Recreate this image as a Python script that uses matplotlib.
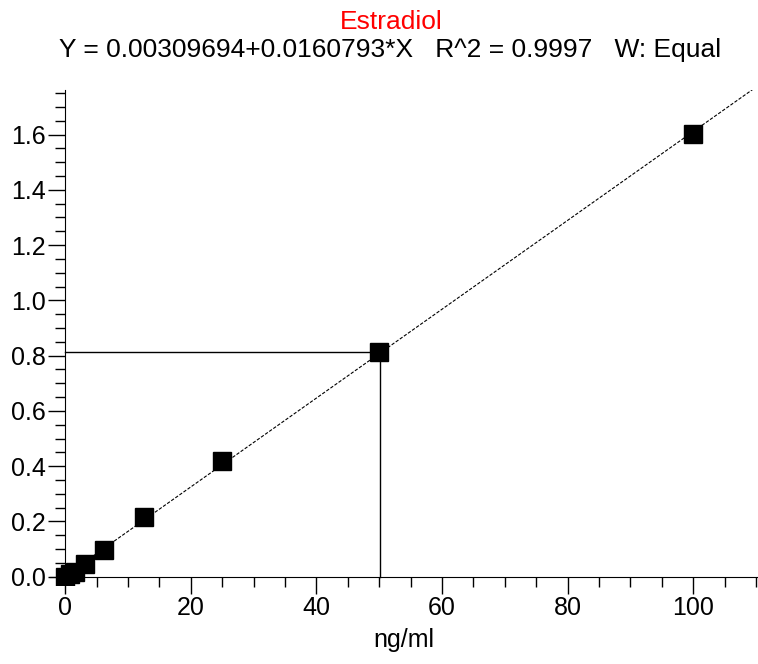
import matplotlib.pyplot as plt
import numpy as np

plt.rcParams['font.family'] = ['Liberation Sans', 'DejaVu Sans']

# calibration standards (ng/ml) and response
conc = [0, 0.78, 1.56, 3.125, 6.25, 12.5, 25, 50, 100]
resp = [0.0, 0.01, 0.018, 0.047, 0.098, 0.217, 0.419, 0.812, 1.603]

# regression fit
intercept = 0.00309694
slope = 0.0160793

# sample read-off
sample_x = 50.2
sample_y = 0.812

fig = plt.figure(figsize=(7.58, 6.64), dpi=100)
ax = fig.add_axes([0.066, 0.119, 0.934, 0.745])

xfit = np.array([0, 110.3])
ax.plot(xfit, intercept + slope * xfit, color='black', lw=0.8, ls=(0, (3, 1.5)))
ax.plot([0, sample_x], [sample_y, sample_y], color='black', lw=1)
ax.plot([sample_x, sample_x], [0, sample_y], color='black', lw=1)
ax.plot(conc, resp, 's', color='black', ms=13, zorder=3)

ax.set_xlim(-2.4, 110.3)
ax.set_ylim(-0.03, 1.76)

for s in ['top', 'right']:
    ax.spines[s].set_visible(False)
ax.spines['left'].set_position(('data', 0))
ax.spines['bottom'].set_position(('data', 0))
ax.spines['left'].set_bounds(0, 1.76)
ax.spines['bottom'].set_bounds(-2.4, 110.3)

ax.set_xticks(np.arange(0, 101, 20))
ax.set_xticks(np.arange(0, 111, 5), minor=True)
ax.set_yticks(np.arange(0, 1.61, 0.2))
ax.set_yticks(np.arange(0, 1.76, 0.05), minor=True)
ax.set_yticklabels(['%.1f' % v for v in np.arange(0, 1.61, 0.2)])
ax.tick_params(which='major', length=12, width=1, labelsize=18, pad=2)
ax.tick_params(which='minor', length=7, width=1)

ax.set_xlabel('ng/ml', fontsize=18, labelpad=6)
fig.text(0.516, 0.967, 'Estradiol', color='red', fontsize=19, ha='center', va='center')
fig.text(0.514, 0.925, 'Y = 0.00309694+0.0160793*X   R^2 = 0.9997   W: Equal',
         fontsize=19, ha='center', va='center')

fig.savefig('out.png', dpi=100)
